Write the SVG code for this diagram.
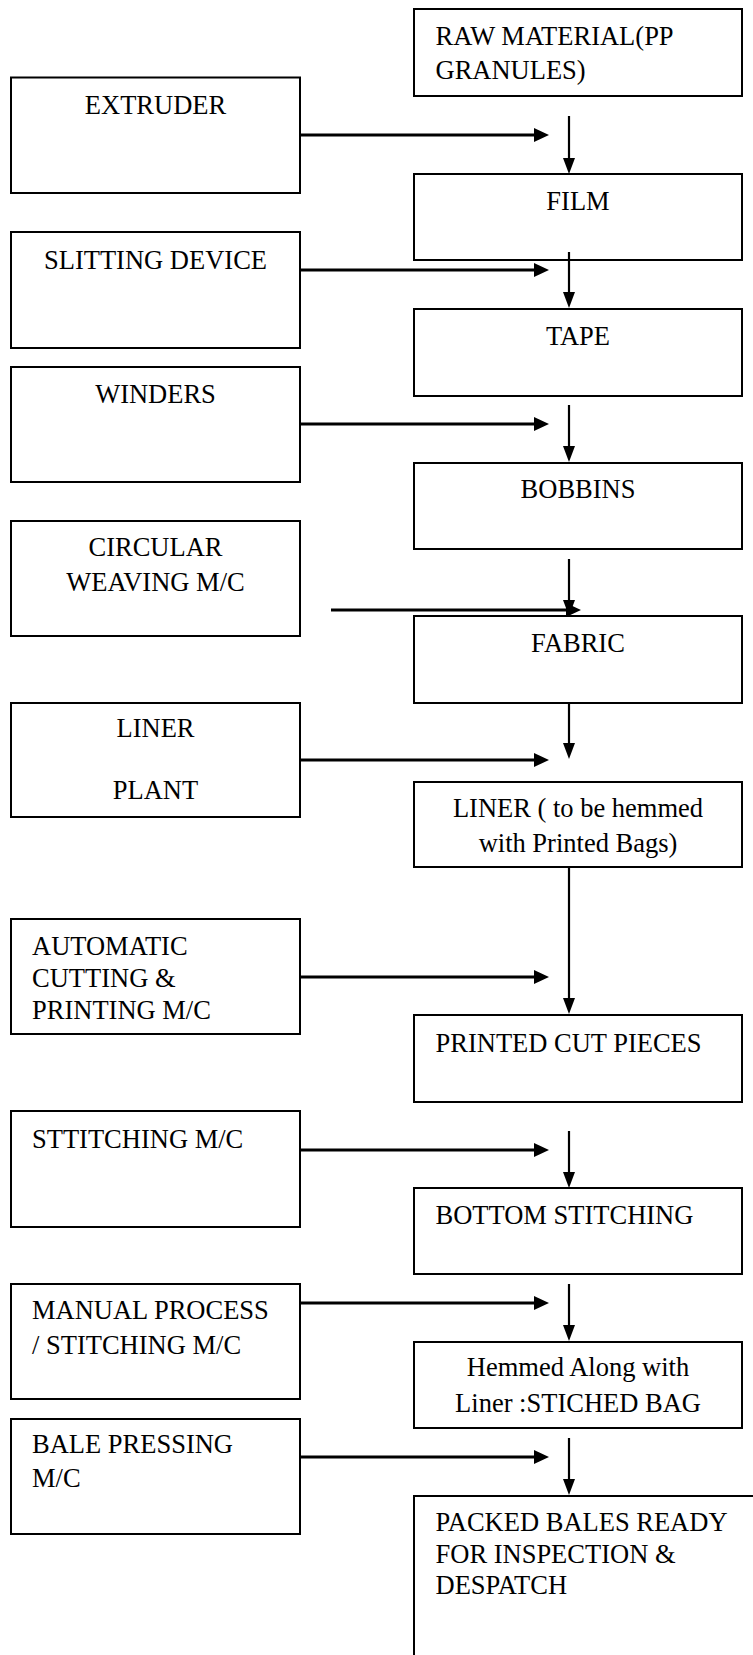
<svg xmlns="http://www.w3.org/2000/svg" width="753" height="1655" viewBox="0 0 753 1655">
<style>
.box{fill:#fff;stroke:#000;stroke-width:2}
.t{font-family:"Liberation Serif","Times New Roman",serif;font-size:26.5px;fill:#000}
.c{text-anchor:middle}
.h{stroke:#000;stroke-width:3;fill:none}
.v{stroke:#000;stroke-width:2.2;fill:none}
</style>
<defs>
<marker id="ah" markerUnits="userSpaceOnUse" markerWidth="16" markerHeight="14" refX="7" refY="7" orient="auto"><path d="M0,0 L15,7 L0,14 Z" fill="#000"/></marker>
<marker id="av" markerUnits="userSpaceOnUse" markerWidth="17" markerHeight="12" refX="8" refY="6" orient="auto"><path d="M0,0 L16,6 L0,12 Z" fill="#000"/></marker>
</defs>
<rect width="753" height="1655" fill="#fff"/>

<g id="raw"><rect class="box" x="414" y="9" width="328" height="87"/><text class="t" x="435.5" y="45">RAW MATERIAL(PP</text><text class="t" x="435.5" y="78.5">GRANULES)</text></g>
<g id="extruder"><rect class="box" x="11" y="77.5" width="289" height="115.5"/><text class="t c" x="155.5" y="114">EXTRUDER</text></g>
<g id="film"><rect class="box" x="414" y="174" width="328" height="86"/><text class="t c" x="578" y="210">FILM</text></g>
<g id="slitting"><rect class="box" x="11" y="232" width="289" height="116"/><text class="t c" x="155.5" y="269">SLITTING DEVICE</text></g>
<g id="tape"><rect class="box" x="414" y="309" width="328" height="87"/><text class="t c" x="578" y="345">TAPE</text></g>
<g id="winders"><rect class="box" x="11" y="367" width="289" height="115"/><text class="t c" x="155.5" y="403">WINDERS</text></g>
<g id="bobbins"><rect class="box" x="414" y="463" width="328" height="86"/><text class="t c" x="578" y="498">BOBBINS</text></g>
<g id="circular"><rect class="box" x="11" y="521" width="289" height="115"/><text class="t c" x="155.5" y="556">CIRCULAR</text><text class="t c" x="155.5" y="591">WEAVING M/C</text></g>
<g id="fabric"><rect class="box" x="414" y="616" width="328" height="87"/><text class="t c" x="578" y="652">FABRIC</text></g>
<g id="linerplant"><rect class="box" x="11" y="703" width="289" height="114"/><text class="t c" x="155.5" y="737">LINER</text><text class="t c" x="155.5" y="799">PLANT</text></g>
<g id="liner"><rect class="box" x="414" y="782" width="328" height="85"/><text class="t c" x="578" y="817">LINER ( to be hemmed</text><text class="t c" x="578" y="851.5">with Printed Bags)</text></g>
<g id="automatic"><rect class="box" x="11" y="919" width="289" height="115"/><text class="t" x="32" y="955">AUTOMATIC</text><text class="t" x="32" y="987">CUTTING &amp;</text><text class="t" x="32" y="1019">PRINTING M/C</text></g>
<g id="printed"><rect class="box" x="414" y="1015" width="328" height="87"/><text class="t" x="435.5" y="1052">PRINTED CUT PIECES</text></g>
<g id="sttitching"><rect class="box" x="11" y="1111" width="289" height="116"/><text class="t" x="32" y="1148">STTITCHING M/C</text></g>
<g id="bottom"><rect class="box" x="414" y="1188" width="328" height="86"/><text class="t" x="435.5" y="1224">BOTTOM STITCHING</text></g>
<g id="manual"><rect class="box" x="11" y="1284" width="289" height="115"/><text class="t" x="32" y="1319">MANUAL PROCESS</text><text class="t" x="32" y="1353.5">/ STITCHING M/C</text></g>
<g id="hemmed"><rect class="box" x="414" y="1342" width="328" height="86"/><text class="t c" x="578" y="1376">Hemmed Along with</text><text class="t c" x="578" y="1412">Liner :STICHED BAG</text></g>
<g id="bale"><rect class="box" x="11" y="1419" width="289" height="115"/><text class="t" x="32" y="1453">BALE PRESSING</text><text class="t" x="32" y="1486.5">M/C</text></g>
<g id="packed"><path d="M414,1655 V1496 H753" fill="none" stroke="#000" stroke-width="2"/><text class="t" x="435.5" y="1531">PACKED BALES READY</text><text class="t" x="435.5" y="1562.5">FOR INSPECTION &amp;</text><text class="t" x="435.5" y="1594">DESPATCH</text></g>

<g id="connectors">
<line class="h" x1="300" y1="135" x2="541" y2="135" marker-end="url(#ah)"/>
<line class="h" x1="300" y1="270" x2="541" y2="270" marker-end="url(#ah)"/>
<line class="h" x1="300" y1="424" x2="541" y2="424" marker-end="url(#ah)"/>
<line class="h" x1="331" y1="610" x2="573" y2="610" marker-end="url(#ah)"/>
<line class="h" x1="300" y1="760" x2="541" y2="760" marker-end="url(#ah)"/>
<line class="h" x1="300" y1="977" x2="541" y2="977" marker-end="url(#ah)"/>
<line class="h" x1="300" y1="1150" x2="541" y2="1150" marker-end="url(#ah)"/>
<line class="h" x1="300" y1="1303" x2="541" y2="1303" marker-end="url(#ah)"/>
<line class="h" x1="300" y1="1457" x2="541" y2="1457" marker-end="url(#ah)"/>
<line class="v" x1="569" y1="116" x2="569" y2="166" marker-end="url(#av)"/>
<line class="v" x1="569" y1="252" x2="569" y2="300" marker-end="url(#av)"/>
<line class="v" x1="569" y1="405" x2="569" y2="454" marker-end="url(#av)"/>
<line class="v" x1="569" y1="559" x2="569" y2="608" marker-end="url(#av)"/>
<line class="v" x1="569" y1="703" x2="569" y2="751" marker-end="url(#av)"/>
<line class="v" x1="569" y1="867" x2="569" y2="1006" marker-end="url(#av)"/>
<line class="v" x1="569" y1="1131" x2="569" y2="1180" marker-end="url(#av)"/>
<line class="v" x1="569" y1="1284" x2="569" y2="1333" marker-end="url(#av)"/>
<line class="v" x1="569" y1="1438" x2="569" y2="1487" marker-end="url(#av)"/>
</g>
</svg>
